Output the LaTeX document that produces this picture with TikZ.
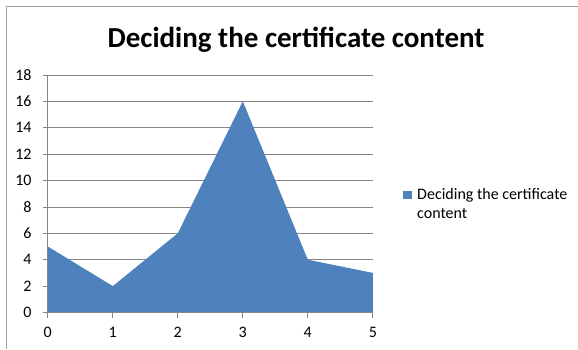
\documentclass[tikz,border=0pt]{standalone}
\usepackage{fontspec}
\setmainfont{Carlito}
\definecolor{serieblue}{HTML}{4F81BD}
\definecolor{axisgray}{HTML}{868686}
\definecolor{framegray}{HTML}{A0A0A0}
\begin{document}
\begin{tikzpicture}[x=1pt,y=1pt,
  ticklbl/.style={font=\fontsize{16}{19}\selectfont, inner sep=0pt},
  leglbl/.style={font=\fontsize{16}{19}\selectfont, inner sep=0pt, anchor=base west},
  gridln/.style={draw=axisgray, line width=0.8pt},
  axisln/.style={draw=axisgray, line width=0.8pt}]
\useasboundingbox (0,0) rectangle (578,349);
% chart frame (cropped)
\draw[framegray, line width=1pt] (6,0) -- (6,342) -- (578,342);
% title
\node[font=\fontsize{29}{34}\selectfont\bfseries, inner sep=0pt] (title) at (296,309) {Deciding the certificate content};
\begin{scope}[x=65pt,y=13.2pt,shift={(47.8pt,36.5pt)}]
  % gridlines
  \foreach \v in {2,4,...,18} \draw[gridln] (0,\v) -- (5,\v);
  % area
  \fill[serieblue] (0,0) -- (0,5) -- (1,2) -- (2,6) -- (3,16) -- (4,4) -- (5,3) -- (5,0) -- cycle;
  % axes
  \draw[axisln] (0,0) -- (0,18);
  \draw[axisln] (0,0) -- (5,0);
  \foreach \v in {0,2,...,18} {
    \draw[axisln] (0,\v) -- ++(-5pt,0);
    \node[ticklbl, anchor=east] (y\v) at ([xshift=-16pt]0,\v) {\v};
  }
  \foreach \u in {0,...,5} {
    \draw[axisln] (\u,0) -- ++(0,-5pt);
    \node[ticklbl] (x\u) at ([yshift=-20pt]\u,0) {\u};
  }
\end{scope}
% legend
\fill[serieblue] (403,150) rectangle (412,158) coordinate (legsq);
\node[leglbl] (legend1) at (417,150) {Deciding the certificate};
\node[leglbl] (legend2) at (417,131) {content};
\end{tikzpicture}
\end{document}
